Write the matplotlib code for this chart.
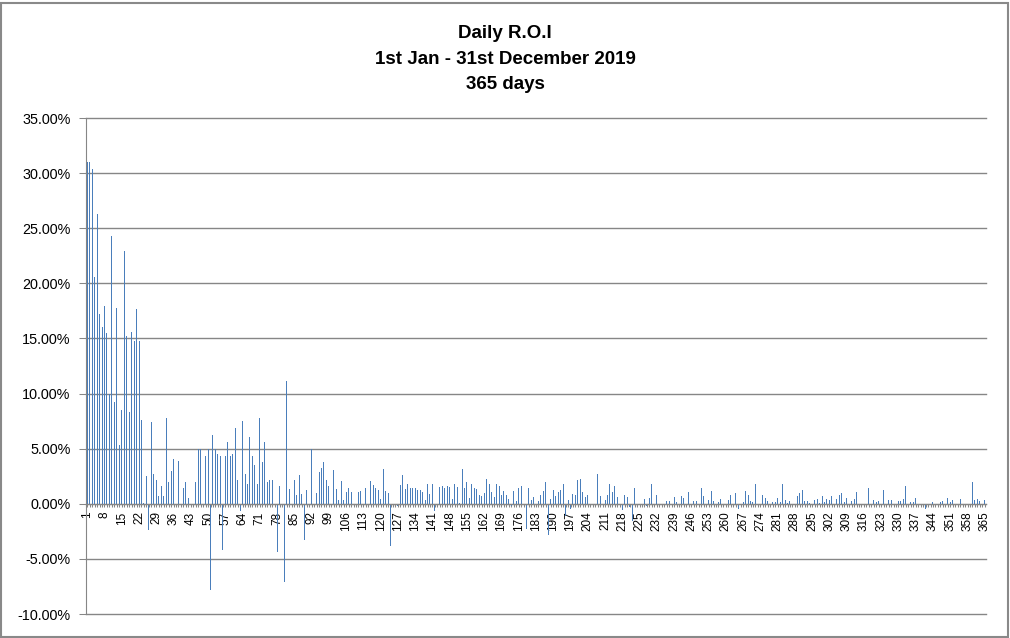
import matplotlib
matplotlib.use("Agg")
import matplotlib.pyplot as plt
from matplotlib.patches import Rectangle
from matplotlib.ticker import FuncFormatter

plt.rcParams["font.family"] = ["Liberation Sans", "DejaVu Sans"]

title_lines = ["Daily R.O.I", "1st Jan - 31st December 2019", "365 days"]

# daily return on investment, in percent, day 1 .. day 365
roi = [
    31.0, 31.0, 30.4, 20.6, 26.3, 17.2, 16.0, 17.95, 15.5, 10.0,
    24.3, 9.2, 17.8, 5.35, 8.5, 22.9, 15.2, 8.3, 15.6, 14.8,
    17.7, 14.8, 7.6, 0.1, 2.5, -2.4, 7.4, 2.7, 2.2, 0.7,
    1.6, 0.7, 7.8, 2.0, 3.0, 4.1, 1.1, 3.9, 0, 1.45,
    2.0, 0.5, 0, 0, 2.0, 5.0, 5.0, 0, 4.3, 5.0,
    -7.8, 6.2, 5.0, 4.5, 4.35, -4.2, 4.35, 5.6, 4.3, 4.5,
    6.9, 2.2, -0.7, 7.5, 2.7, 1.8, 6.1, 4.35, 3.5, 1.8,
    7.8, 3.75, 5.6, 2.0, 2.2, 2.2, 0, -4.4, 1.6, 0,
    -7.1, 11.15, 1.35, 0, 2.2, 0.8, 2.6, 0.9, -3.3, 1.25,
    0, 5.0, 0, 1.0, 2.9, 3.25, 3.8, 2.2, 1.6, 0,
    3.1, 1.35, 0.3, 2.1, 0.3, 1.1, 1.45, 1.1, 0, 1.0,
    1.1, 1.2, 0, 1.45, 0, 2.1, 1.7, 1.45, 1.25, 0.45,
    3.15, 1.2, 1.0, -3.85, 0, 0, -0.2, 1.7, 2.6, 1.35,
    1.8, 1.45, 1.45, 1.45, 1.25, 1.25, 1.1, 0.3, 1.8, 0.9,
    1.75, -0.7, 0, 1.5, 1.6, 1.45, 1.6, 1.5, 0.45, 1.8,
    1.5, 0.05, 3.15, 1.45, 2.0, 0.55, 1.8, 1.45, 1.3, 0.8,
    0.75, 1.0, 2.25, 1.75, 1.1, 0.65, 1.8, 1.6, 0.8, 1.15,
    0.8, 0.45, -0.2, 1.15, 0.25, 1.45, 1.6, 0, -2.3, 1.45,
    0.35, 0.6, 1.15, 0.25, 0.8, 1.15, 2.0, -2.85, 0.45, 1.25,
    0.7, 1.1, 1.25, 1.8, -1.1, 0.35, -0.5, 0.9, 0.8, 2.15,
    2.25, 1.1, 0.6, 0.8, 0, 0, 0, 2.7, 0.7, 0,
    0.35, 0.8, 1.75, 1.1, 1.6, 0.6, 0, -0.6, 0.8, 0.6,
    -0.3, -1.6, 1.45, 0, 0, 0, 0.45, -0.2, 0.55, 1.8,
    0, 0.8, 0, 0, 0, 0.25, 0.25, 0, 0.6, 0.15,
    0, 0.7, 0.55, 0, 1.1, 0, 0.25, 0.25, 0, 1.45,
    0.7, 0, 0.35, 1.15, 0.25, 0.55, 0.15, 0.45, 0, 0,
    0.35, 0.8, 0, 1.0, -0.5, 0, 0.15, 1.15, 0.8, 0.25,
    0.15, 1.75, 0, 0, 0.8, 0.55, 0.25, 0, 0.15, 0.15,
    0.55, 0.15, 1.8, 0.35, 0.1, 0.25, 0, 0, 0.7, 1.0,
    1.25, 0.25, 0.25, 0.1, 0, 0.35, 0.45, 0.1, 0.7, 0.15,
    0.45, 0.35, 0.7, 0, 0.45, 0.8, 1.0, 0.15, 0.55, 0,
    0.25, 0.45, 1.1, 0, 0, 0, 0, 1.45, 0, 0.35,
    0.15, 0.25, 0, 1.25, 0, 0.35, 0.35, 0, 0.35, 0.25,
    0.25, 0.45, 1.6, 0, 0.15, 0.15, 0.55, 0, 0, 0,
    -0.5, 0, 0, 0.15, 0, 0, 0.15, 0.25, 0, 0.55,
    0.15, 0.35, 0, 0, 0.45, 0, 0, 0, 0, 2.0,
    0.35, 0.45, 0.25, 0, 0.35,
]
days = list(range(1, len(roi) + 1))
label_days = days[::7]

grid_col = "#868686"

fig = plt.figure(figsize=(10.1, 6.38), dpi=100)
ax = fig.add_axes([86 / 1010, 24 / 638, 900 / 1010, 496 / 638])

# spines first: moving the bottom spine resets the tick labels
for s in ["top", "right"]:
    ax.spines[s].set_visible(False)
ax.spines["bottom"].set_position(("data", 0))
ax.spines["bottom"].set_color(grid_col)
ax.spines["left"].set_color(grid_col)

ax.bar(days, roi, width=0.4, color="#4A7EBB", linewidth=0, antialiased=False)

ax.set_xlim(0.5, 365.5)
ax.set_ylim(-10, 35)
ax.set_yticks(range(-10, 36, 5))
ax.yaxis.set_major_formatter(FuncFormatter(lambda v, p: f"{v:.2f}%"))
ax.grid(axis="y", color=grid_col, linewidth=1)
ax.set_axisbelow(True)
for gl in ax.get_ygridlines():
    gl.set_clip_on(False)

ax.set_xticks(label_days)
ax.set_xticklabels([str(d) for d in label_days])
ax.set_xticks(days, minor=True)

ax.tick_params(axis="y", length=5, width=0.75, color=grid_col, pad=6, labelsize=10.4)
ax.tick_params(axis="x", which="both", length=2.5, width=0.75, color=grid_col,
               pad=3, labelsize=8.5, labelrotation=90)

for i, line in enumerate(title_lines):
    fig.text(0.5, 1 - [38, 64, 89][i] / 638, line, ha="center", va="baseline",
             fontsize=13.5, fontweight="bold")

fig.patches.append(Rectangle((1 / 1010, 1.5 / 638), 1007 / 1010, 634 / 638,
                             transform=fig.transFigure, fill=False,
                             edgecolor="#898989", linewidth=1.5))

fig.savefig("out.png", dpi=100)
